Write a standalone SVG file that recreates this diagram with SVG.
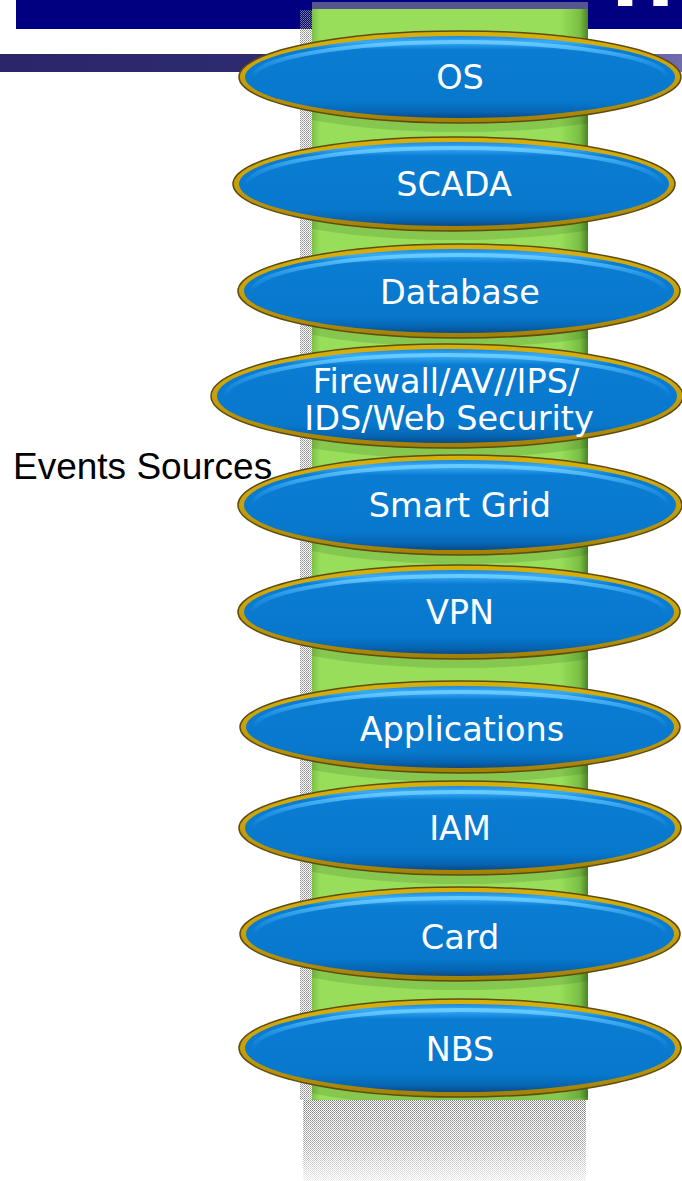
<svg xmlns="http://www.w3.org/2000/svg" width="682" height="1181" viewBox="0 0 682 1181">
  <defs>
    <style>
      .label { font-family: "DejaVu Sans", Verdana, sans-serif; font-size: 33.5px; fill: #ffffff; text-anchor: middle; }
      .side { font-family: "Liberation Sans", Arial, sans-serif; font-size: 37px; fill: #000000; }
      .rim { fill: url(#rimGrad); stroke: #5e4c10; stroke-width: 1.5; }
      .body { fill: url(#bodyGrad); }
      .gloss { fill: none; stroke: url(#glossGrad); stroke-width: 4; }
      .shade { fill: #1f3d0c; opacity: 0.14; }
    </style>
    <linearGradient id="bandGrad" x1="0" y1="0" x2="1" y2="0">
      <stop offset="0" stop-color="#2a2668"/>
      <stop offset="0.7" stop-color="#322e76"/>
      <stop offset="1" stop-color="#706cae"/>
    </linearGradient>
    <linearGradient id="columnGrad" x1="0" y1="0" x2="1" y2="0">
      <stop offset="0" stop-color="#7cc246"/>
      <stop offset="0.03" stop-color="#98de5a"/>
      <stop offset="0.9" stop-color="#98de5a"/>
      <stop offset="0.97" stop-color="#7abf44"/>
      <stop offset="1" stop-color="#4a8426"/>
    </linearGradient>
    <linearGradient id="rimGrad" x1="0" y1="0" x2="0" y2="1">
      <stop offset="0" stop-color="#d8b00a"/>
      <stop offset="0.5" stop-color="#c8a00c"/>
      <stop offset="1" stop-color="#a08008"/>
    </linearGradient>
    <linearGradient id="bodyGrad" x1="0" y1="0" x2="0" y2="1">
      <stop offset="0" stop-color="#1a8ae0"/>
      <stop offset="0.07" stop-color="#38acf8"/>
      <stop offset="0.17" stop-color="#0a7cd2"/>
      <stop offset="0.8" stop-color="#0778cc"/>
      <stop offset="0.93" stop-color="#0664b2"/>
      <stop offset="1" stop-color="#0a4a86"/>
    </linearGradient>
    <linearGradient id="glossGrad" x1="0" y1="0" x2="0" y2="1">
      <stop offset="0" stop-color="#6ccdff" stop-opacity="0.95"/>
      <stop offset="0.3" stop-color="#4ab8ff" stop-opacity="0.35"/>
      <stop offset="0.5" stop-color="#4ab8ff" stop-opacity="0"/>
      <stop offset="1" stop-color="#4ab8ff" stop-opacity="0"/>
    </linearGradient>
    <pattern id="dither" width="2" height="2" patternUnits="userSpaceOnUse">
      <rect x="0" y="0" width="1" height="1" fill="#7a7a7a"/>
      <rect x="1" y="1" width="1" height="1" fill="#9a9a9a"/>
    </pattern>
    <linearGradient id="fadeGrad" x1="0" y1="0" x2="0" y2="1">
      <stop offset="0" stop-color="#fff" stop-opacity="1"/>
      <stop offset="0.55" stop-color="#fff" stop-opacity="0.7"/>
      <stop offset="1" stop-color="#fff" stop-opacity="0.15"/>
    </linearGradient>
    <mask id="fadeMask" maskUnits="userSpaceOnUse" x="300" y="1100" width="290" height="81">
      <rect x="300" y="1100" width="290" height="81" fill="url(#fadeGrad)"/>
    </mask>
    <clipPath id="columnClip">
      <rect x="312" y="8" width="276" height="1092"/>
    </clipPath>
  </defs>

  <!-- page header bands -->
  <g id="header">
    <rect x="16" y="0" width="666" height="29" fill="#000080"/>
    <text x="611" y="6" font-family="DejaVu Sans, Verdana, sans-serif" font-weight="bold" font-size="76" fill="#ffffff">H</text>
    <rect x="0" y="54" width="682" height="18" fill="url(#bandGrad)"/>
  </g>

  <!-- stacked column behind the source ellipses -->
  <g id="column">
    <rect x="300" y="10" width="12" height="1090" fill="url(#dither)" opacity="0.85"/>
    <rect x="303" y="1100" width="283" height="81" fill="url(#dither)" mask="url(#fadeMask)"/>
    <rect x="312" y="8" width="276" height="1092" fill="url(#columnGrad)"/>
    <rect x="312" y="2" width="276" height="7" fill="#565690"/>
    <g clip-path="url(#columnClip)">
      <ellipse class="shade" cx="460" cy="88" rx="215" ry="44"/>
      <ellipse class="shade" cx="454" cy="195" rx="215" ry="45"/>
      <ellipse class="shade" cx="459" cy="302" rx="215" ry="45"/>
      <ellipse class="shade" cx="447" cy="408" rx="230" ry="50"/>
      <ellipse class="shade" cx="460" cy="516" rx="216" ry="48"/>
      <ellipse class="shade" cx="459" cy="623" rx="215" ry="45"/>
      <ellipse class="shade" cx="460" cy="738" rx="214" ry="44"/>
      <ellipse class="shade" cx="460" cy="839" rx="215" ry="45"/>
      <ellipse class="shade" cx="460" cy="945" rx="214" ry="45"/>
      <ellipse class="shade" cx="460" cy="1060" rx="215" ry="46"/>
    </g>
  </g>

  <!-- connectors: none in this diagram -->
  <g id="connectors"/>

  <text class="side" x="13" y="479">Events Sources</text>

  <g id="node-os">
    <ellipse class="rim" cx="460" cy="77" rx="221" ry="46"/>
    <ellipse class="body" cx="460" cy="77" rx="215" ry="41"/>
    <ellipse class="gloss" cx="460" cy="78" rx="207" ry="36"/>
    <text class="label" x="460" y="89">OS</text>
  </g>

  <g id="node-scada">
    <ellipse class="rim" cx="454" cy="184" rx="221" ry="47"/>
    <ellipse class="body" cx="454" cy="184" rx="215" ry="42"/>
    <ellipse class="gloss" cx="454" cy="185" rx="207" ry="37"/>
    <text class="label" x="454" y="196">SCADA</text>
  </g>

  <g id="node-database">
    <ellipse class="rim" cx="459" cy="291" rx="221" ry="47"/>
    <ellipse class="body" cx="459" cy="291" rx="215" ry="42"/>
    <ellipse class="gloss" cx="459" cy="292" rx="207" ry="37"/>
    <text class="label" x="460" y="304">Database</text>
  </g>

  <g id="node-firewall">
    <ellipse class="rim" cx="447" cy="396" rx="236" ry="52"/>
    <ellipse class="body" cx="447" cy="396" rx="230" ry="47"/>
    <ellipse class="gloss" cx="447" cy="397" rx="222" ry="42"/>
    <text class="label" x="446" y="393">Firewall/AV//IPS/</text>
    <text class="label" x="449" y="430">IDS/Web Security</text>
  </g>

  <g id="node-smart-grid">
    <ellipse class="rim" cx="460" cy="505" rx="222" ry="50"/>
    <ellipse class="body" cx="460" cy="505" rx="216" ry="45"/>
    <ellipse class="gloss" cx="460" cy="506" rx="208" ry="40"/>
    <text class="label" x="460" y="517">Smart Grid</text>
  </g>

  <g id="node-vpn">
    <ellipse class="rim" cx="459" cy="612" rx="221" ry="47"/>
    <ellipse class="body" cx="459" cy="612" rx="215" ry="42"/>
    <ellipse class="gloss" cx="459" cy="613" rx="207" ry="37"/>
    <text class="label" x="460" y="624">VPN</text>
  </g>

  <g id="node-applications">
    <ellipse class="rim" cx="460" cy="727" rx="220" ry="46"/>
    <ellipse class="body" cx="460" cy="727" rx="214" ry="41"/>
    <ellipse class="gloss" cx="460" cy="728" rx="206" ry="36"/>
    <text class="label" x="462" y="741">Applications</text>
  </g>

  <g id="node-iam">
    <ellipse class="rim" cx="460" cy="828" rx="221" ry="47"/>
    <ellipse class="body" cx="460" cy="828" rx="215" ry="42"/>
    <ellipse class="gloss" cx="460" cy="829" rx="207" ry="37"/>
    <text class="label" x="460" y="840">IAM</text>
  </g>

  <g id="node-card">
    <ellipse class="rim" cx="460" cy="934" rx="220" ry="47"/>
    <ellipse class="body" cx="460" cy="934" rx="214" ry="42"/>
    <ellipse class="gloss" cx="460" cy="935" rx="206" ry="37"/>
    <text class="label" x="460" y="949">Card</text>
  </g>

  <g id="node-nbs">
    <ellipse class="rim" cx="460" cy="1048" rx="221" ry="49"/>
    <ellipse class="body" cx="460" cy="1048" rx="215" ry="44"/>
    <ellipse class="gloss" cx="460" cy="1049" rx="207" ry="39"/>
    <text class="label" x="460" y="1061">NBS</text>
  </g>
</svg>
